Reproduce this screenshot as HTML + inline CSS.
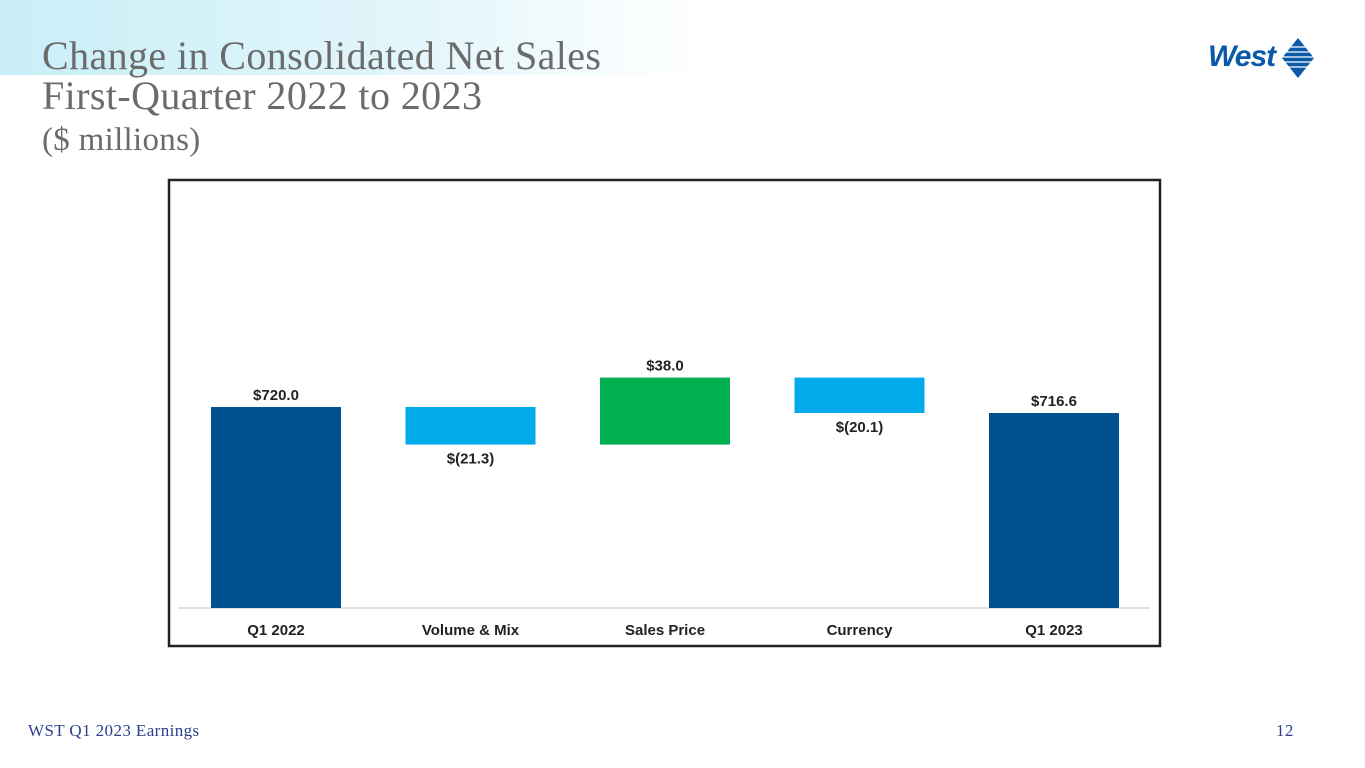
<!DOCTYPE html>
<html><head><meta charset="utf-8"><style>
body{margin:0;width:1365px;height:768px;overflow:hidden;background:#fff;position:relative;font-family:"Liberation Sans",sans-serif}
.bg{position:absolute;left:0;top:0;width:700px;height:75px;background:linear-gradient(90deg,#c9eef7 0%,#e3f6fb 60%,rgba(255,255,255,0) 100%)}
.title{position:absolute;left:42px;top:36px;font-family:"Liberation Serif",serif;color:#6b6b6b;font-size:40px;line-height:40px;letter-spacing:0.4px}
.sub{position:absolute;left:42px;top:122px;font-family:"Liberation Serif",serif;color:#6b6b6b;font-size:33px;letter-spacing:0.3px}
.footer{position:absolute;top:721px;font-family:"Liberation Serif",serif;color:#2a3f8f;font-size:17px;letter-spacing:0.4px}
</style></head><body>
<div class="bg"></div>
<div class="title">Change in Consolidated Net Sales<br>First-Quarter 2022 to 2023</div>
<div class="sub">($ millions)</div>
<div style="position:absolute;left:1208px;top:40px;width:110px;height:40px">
<span style="font:italic bold 30px 'Liberation Sans',sans-serif;color:#0a5aa8;letter-spacing:-1px">West</span>
<svg style="position:absolute;left:74px;top:-2px" width="32" height="40" viewBox="0 0 32 40"><polygon points="16,0 32,20 16,40 0,20" fill="#0a5aa8"/><g stroke="#fff" stroke-width="1.2"><line x1="2" y1="14" x2="30" y2="14"/><line x1="0" y1="19" x2="32" y2="19"/><line x1="0" y1="24" x2="32" y2="24"/><line x1="3" y1="29" x2="29" y2="29"/><line x1="6" y1="9" x2="26" y2="9"/></g></svg>
</div>
<svg id="chart" style="position:absolute;left:0;top:0" width="1365" height="768"></svg>
<div class="footer" style="left:28px">WST Q1 2023 Earnings</div>
<div class="footer" style="left:1276px">12</div>
<script>
const categories=["Q1 2022","Volume & Mix","Sales Price","Currency","Q1 2023"];
const deltas=[720.0,-21.3,38.0,-20.1,716.6];
const kinds=["total","delta","delta","delta","total"];
const labels=["$720.0","$(21.3)","$38.0","$(20.1)","$716.6"];
const yMin=606, yBase=608, pxPerUnit=1.763;
const y=v=>yBase-(v-yMin)*pxPerUnit;
const x0=211, step=194.5, bw=130;
const svg=document.getElementById('chart');
const NS="http://www.w3.org/2000/svg";
function mk(t,a){const e=document.createElementNS(NS,t);for(const k in a)e.setAttribute(k,a[k]);svg.appendChild(e);return e;}
const frame=mk('rect',{x:169,y:180,width:991,height:466,fill:'none',stroke:'#222',"stroke-width":2.5});


const axis=mk('line',{x1:178,y1:yBase,x2:1150,y2:yBase,stroke:'#d9d9d9',"stroke-width":1.5});


let run=0;
categories.forEach((c,i)=>{
  const bx=x0+i*step;
  let top,bot,color;
  if(kinds[i]==='total'){run=deltas[i];top=y(run);bot=yBase;color='#00518f';}
  else{const a=run,b=run+deltas[i];top=y(Math.max(a,b));bot=y(Math.min(a,b));run=b;color=deltas[i]<0?'#00aaeb':'#00b050';}
  const r=mk('rect',{x:bx,y:top,width:bw,height:bot-top,fill:color});
  
  
  const neg=kinds[i]==='delta'&&deltas[i]<0;
  const t=mk('text',{x:bx+bw/2,y:neg?bot+19:top-7,"text-anchor":'middle',"font-size":15,"font-weight":'bold',fill:'#222',"font-family":'Liberation Sans, sans-serif'});
  t.textContent=labels[i];
  
  
  const l=mk('text',{x:bx+bw/2,y:635,"text-anchor":'middle',"font-size":15,"font-weight":'bold',fill:'#222',"font-family":'Liberation Sans, sans-serif'});
  l.textContent=c;
  
  
});
</script>
</body></html>
